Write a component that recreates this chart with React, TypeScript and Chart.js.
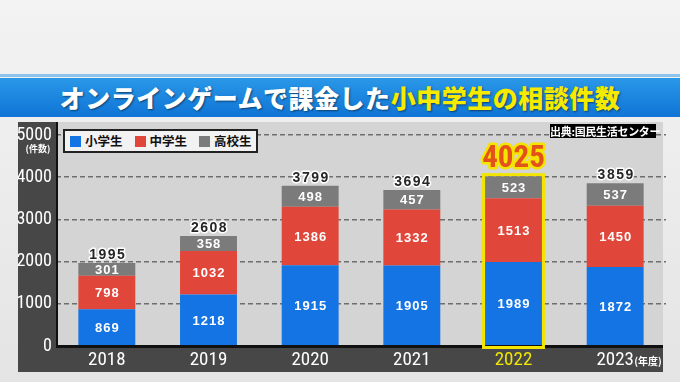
import React, { useEffect, useRef } from "react";
import { Chart, registerables } from "chart.js";

Chart.register(...registerables);

const years = ["2018", "2019", "2020", "2021", "2022", "2023"];
const elementary = [869, 1218, 1915, 1905, 1989, 1872];
const juniorHigh = [798, 1032, 1386, 1332, 1513, 1450];
const highSchool = [301, 358, 498, 457, 523, 537];
const totals = [1995, 2608, 3799, 3694, 4025, 3859];
const seriesNames = ["小学生", "中学生", "高校生"];
const seriesColors = ["#1474e4", "#e0463a", "#7b7b7b"];
const highlightIndex = 4;
const titleWhite = "オンラインゲームで課金した";
const titleYellow = "小中学生の相談件数";
const sourceText = "出典:国民生活センター";
const yUnit = "(件数)";
const xUnit = "(年度)";

const NARROW = '"Liberation Sans Narrow", "Roboto Condensed", Arial, sans-serif';
const JP = '"Noto Sans CJK JP", "Noto Sans", sans-serif';

const decorPlugin = {
  id: "decor",
  beforeDraw(chart: any) {
    const { ctx, chartArea } = chart;
    ctx.save();
    const g = ctx.createLinearGradient(0, 0, 0, 382);
    g.addColorStop(0, "#f3f3f3");
    g.addColorStop(1, "#e4e4e4");
    ctx.fillStyle = g;
    ctx.fillRect(0, 0, 680, 382);
    ctx.fillStyle = "#d4d4d4";
    ctx.fillRect(chartArea.left, 122, 663 - chartArea.left, chartArea.bottom - 122);
    ctx.fillStyle = "#474747";
    ctx.fillRect(18, 122, chartArea.left - 18, 372 - 122);
    ctx.fillRect(18, chartArea.bottom, 663 - 18, 372 - chartArea.bottom);
    ctx.restore();
  },
  afterDatasetsDraw(chart: any) {
    const { ctx, chartArea } = chart;
    ctx.save();
    ctx.strokeStyle = "#111";
    ctx.lineWidth = 2;
    ctx.beginPath();
    ctx.moveTo(chartArea.left + 1, 122);
    ctx.lineTo(chartArea.left + 1, chartArea.bottom);
    ctx.stroke();
    ctx.lineWidth = 3;
    ctx.beginPath();
    ctx.moveTo(chartArea.left, chartArea.bottom + 0.5);
    ctx.lineTo(663, chartArea.bottom + 0.5);
    ctx.stroke();

    ctx.textAlign = "center";
    ctx.textBaseline = "middle";
    ctx.fillStyle = "#ffffff";
    ctx.font = 'bold 13px "Liberation Sans", Arial, sans-serif';
    (ctx as any).letterSpacing = "1px";
    chart.data.datasets.forEach((ds: any, di: number) => {
      const meta = chart.getDatasetMeta(di);
      meta.data.forEach((bar: any, i: number) => {
        const cy = (bar.y + bar.base) / 2;
        ctx.fillText(String(ds.data[i]), bar.x + 0.5, cy + 1);
      });
    });

    const topMeta = chart.getDatasetMeta(chart.data.datasets.length - 1);
    const hb = topMeta.data[highlightIndex];
    const hw = hb.width;
    ctx.strokeStyle = "#f3e500";
    ctx.lineWidth = 3;
    ctx.strokeRect(hb.x - hw / 2 - 1.5, hb.y - 1.5, hw + 3, chartArea.bottom - hb.y + 3);

    topMeta.data.forEach((bar: any, i: number) => {
      const t = String(totals[i]);
      if (i === highlightIndex) {
        (ctx as any).letterSpacing = "0px";
        ctx.font = `bold 31px ${NARROW}`;
        ctx.lineJoin = "round";
        ctx.strokeStyle = "#f5e400";
        ctx.lineWidth = 5;
        ctx.strokeText(t, bar.x, bar.y - 17);
        ctx.fillStyle = "#e4521c";
        ctx.fillText(t, bar.x, bar.y - 17);
      } else {
        (ctx as any).letterSpacing = "1.5px";
        ctx.font = 'bold 14px "Liberation Sans", Arial, sans-serif';
        ctx.lineJoin = "round";
        ctx.strokeStyle = "#ffffff";
        ctx.lineWidth = 3;
        ctx.strokeText(t, bar.x + 1, bar.y - 8);
        ctx.fillStyle = "#262626";
        ctx.fillText(t, bar.x + 1, bar.y - 8);
      }
    });
    (ctx as any).letterSpacing = "0px";

    ctx.fillStyle = "#ffffff";
    ctx.font = `bold 9px ${JP}`;
    ctx.textAlign = "center";
    ctx.fillText(yUnit, 38, 149);
    ctx.font = `bold 10px ${JP}`;
    ctx.textAlign = "left";
    const xs = chart.scales.x;
    const lastX = xs.getPixelForValue(years.length - 1);
    ctx.fillText(xUnit, lastX + 19, 361);
    ctx.restore();
  },
};

export default function App() {
  const ref = useRef<HTMLCanvasElement>(null);
  useEffect(() => {
    const chart = new Chart(ref.current as HTMLCanvasElement, {
      type: "bar",
      data: {
        labels: years,
        datasets: [
          { label: seriesNames[0], data: elementary, backgroundColor: seriesColors[0] },
          { label: seriesNames[1], data: juniorHigh, backgroundColor: seriesColors[1] },
          { label: seriesNames[2], data: highSchool, backgroundColor: seriesColors[2] },
        ],
      },
      options: {
        animation: false,
        responsive: false,
        devicePixelRatio: 1,
        layout: { padding: { left: 18, right: 14, top: 135, bottom: 10 } },
        datasets: { bar: { barPercentage: 0.56, categoryPercentage: 1 } },
        plugins: { legend: { display: false }, tooltip: { enabled: false } },
        scales: {
          x: {
            stacked: true,
            grid: { display: false, drawTicks: false },
            border: { display: false },
            ticks: {
              color: (c: any) => (c.index === highlightIndex ? "#f2e600" : "#ffffff"),
              font: { family: NARROW, size: 19 },
              padding: 3,
            },
            afterFit: (s: any) => {
              s.height = 26;
            },
          },
          y: {
            stacked: true,
            min: 0,
            max: 5000,
            ticks: {
              stepSize: 1000,
              color: "#ffffff",
              font: { family: NARROW, size: 18 },
              padding: 4,
              callback: (v: any) => String(v),
            },
            grid: {
              drawTicks: false,
              lineWidth: 1.5,
              color: (c: any) => (c.tick && c.tick.value === 0 ? "rgba(0,0,0,0)" : "#6e6e6e"),
            },
            border: { display: false, dash: [5, 3] },
            afterFit: (s: any) => {
              s.width = 38;
            },
          },
        },
      },
      plugins: [decorPlugin],
    });
    return () => chart.destroy();
  }, []);

  return (
    <div style={{ position: "absolute", left: 0, top: 0, width: 680, height: 382, overflow: "hidden" }}>
      <canvas ref={ref} width={680} height={382} style={{ position: "absolute", left: 0, top: 0 }} />
      <div style={{ position: "absolute", left: 0, top: 74, width: 680, height: 3, background: "#8cc4ee" }} />
      <div
        style={{
          position: "absolute",
          left: 0,
          top: 78,
          width: 680,
          height: 39,
          background: "linear-gradient(#2a98e8, #0f74d6)",
          display: "flex",
          alignItems: "center",
          justifyContent: "center",
          fontFamily: JP,
          fontWeight: 900,
          fontSize: 25,
          letterSpacing: "0.5px",
          lineHeight: "39px",
          whiteSpace: "nowrap",
          textShadow: "1px 1px 2px rgba(0,0,0,0.5)",
        }}
      >
        <span style={{ color: "#ffffff" }}>{titleWhite}</span>
        <span style={{ color: "#f6ea00" }}>{titleYellow}</span>
      </div>
      <div
        style={{
          position: "absolute",
          left: 63,
          top: 129,
          width: 191,
          height: 20,
          border: "2px solid #222",
          background: "#f2f2f2",
          display: "flex",
          alignItems: "center",
          fontFamily: JP,
          fontWeight: 700,
          fontSize: 12.5,
          color: "#111",
          whiteSpace: "nowrap",
        }}
      >
        {seriesNames.map((n, i) => (
          <div key={n} style={{ display: "flex", alignItems: "center", marginLeft: i === 0 ? 5 : 12, whiteSpace: "nowrap" }}>
            <div style={{ width: 11, height: 11, background: seriesColors[i], marginRight: 4, flexShrink: 0 }} />
            <span style={{ lineHeight: "20px" }}>{n}</span>
          </div>
        ))}
      </div>
      <div
        style={{
          position: "absolute",
          left: 550,
          top: 124,
          width: 106,
          height: 14,
          background: "#000",
          color: "#fff",
          fontFamily: JP,
          fontWeight: 700,
          fontSize: 11,
          lineHeight: "14px",
          textAlign: "center",
          whiteSpace: "nowrap",
          letterSpacing: "-0.3px",
        }}
      >
        {sourceText}
      </div>
    </div>
  );
}
